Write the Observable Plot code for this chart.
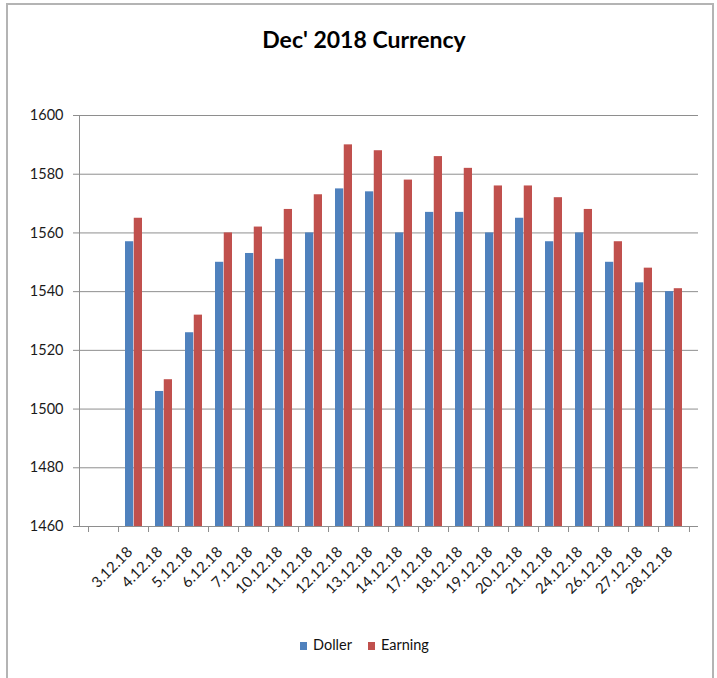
<!DOCTYPE html>
<html>
<head>
<meta charset="utf-8">
<script src="https://cdn.jsdelivr.net/npm/d3@7"></script>
<script src="https://cdn.jsdelivr.net/npm/@observablehq/plot@0.6"></script>
<style>
  html, body { margin: 0; padding: 0; background: #fff; }
  body { font-family: Lato, "Liberation Sans", sans-serif; }
  #wrap { position: relative; width: 717px; height: 678px; overflow: hidden; background: #fff; }
  #border { position: absolute; left: 6px; top: 3px; width: 708px; height: 720px; border: 2px solid #b4b4b4; box-sizing: border-box; }
  #title { position: absolute; left: 0; width: 728px; top: 28px; text-align: center; font-weight: 700; font-size: 23px; line-height: 23px; color: #000; }
  #chart { position: absolute; left: 0; top: 0; }
  #legend { position: absolute; left: 300px; top: 638px; font-size: 14.5px; line-height: 14.5px; color: #111; display: flex; }
  #legend .item { display: flex; align-items: flex-start; margin-right: 16px; }
  #legend .sw { width: 7px; height: 8px; margin-top: 4px; margin-right: 6px; }
</style>
</head>
<body>
<div id="wrap">
  <div id="border"></div>
  <div id="chart"></div>
  <div id="title"></div>
  <div id="legend"></div>
</div>
<script>
// ---- data ----
const titleText = "Dec' 2018 Currency";
const dates = [" ", "3.12.18", "4.12.18", "5.12.18", "6.12.18", "7.12.18", "10.12.18", "11.12.18",
  "12.12.18", "13.12.18", "14.12.18", "17.12.18", "18.12.18", "19.12.18", "20.12.18",
  "21.12.18", "24.12.18", "26.12.18", "27.12.18", "28.12.18"];
const doller  = [null, 1557, 1506, 1526, 1550, 1553, 1551, 1560, 1575, 1574, 1560, 1567, 1567, 1560, 1565, 1557, 1560, 1550, 1543, 1540];
const earning = [null, 1565, 1510, 1532, 1560, 1562, 1568, 1573, 1590, 1588, 1578, 1586, 1582, 1576, 1576, 1572, 1568, 1557, 1548, 1541];
const seriesNames = ["Doller", "Earning"];
const seriesColors = ["#4F81BD", "#C0504D"];
const yTicks = [1460, 1480, 1500, 1520, 1540, 1560, 1580, 1600];

// ---- layout ----
const W = 717, H = 678;
const mLeft = 79, mRight = 19, mTop = 115, mBottom = 152;
const pad = 0.434;
const step = (W - mLeft - mRight) / dates.length;
const half = step * (1 - pad) / 2;
const gridColor = "#8e8e8e";

const dollerData = dates.map((d, i) => ({date: d, value: doller[i]})).filter(d => d.value != null);
const earningData = dates.map((d, i) => ({date: d, value: earning[i]})).filter(d => d.value != null);

const chart = Plot.plot({
  width: W, height: H,
  marginLeft: mLeft, marginRight: mRight, marginTop: mTop, marginBottom: mBottom,
  style: {fontFamily: "Lato, 'Liberation Sans', sans-serif", background: "transparent", overflow: "visible"},
  x: {domain: dates, paddingInner: pad, paddingOuter: pad / 2, label: null},
  y: {domain: [yTicks[0], yTicks[yTicks.length - 1]], label: null},
  marks: [
    Plot.gridY(yTicks, {stroke: gridColor, strokeOpacity: 1}),
    Plot.barY(dollerData, {x: "date", y1: yTicks[0], y2: "value", fill: seriesColors[0], insetRight: half}),
    Plot.barY(earningData, {x: "date", y1: yTicks[0], y2: "value", fill: seriesColors[1], insetLeft: half}),
    Plot.frame({anchor: "left", stroke: gridColor}),
    Plot.axisY(yTicks, {tickSize: 6, tickPadding: 10, stroke: gridColor, fill: "#1a1a1a", fontSize: 14.5, tickFormat: d => String(d), label: null}),
    Plot.axisX({tickSize: 6, text: null, dx: -step / 2, stroke: gridColor, label: null}),
    Plot.axisX([dates[dates.length - 1]], {tickSize: 6, text: null, dx: step / 2, stroke: gridColor, label: null}),
    Plot.axisX(dates.slice(1), {tickSize: 0, tickPadding: 23, dx: -4, tickRotate: -45, fontSize: 15, fill: "#1a1a1a", label: null})
  ]
});
document.getElementById("chart").appendChild(chart);
document.getElementById("title").textContent = titleText;

const legend = document.getElementById("legend");
seriesNames.forEach((n, i) => {
  const item = document.createElement("div");
  item.className = "item";
  const sw = document.createElement("span");
  sw.className = "sw";
  sw.style.background = seriesColors[i];
  const t = document.createElement("span");
  t.textContent = n;
  item.appendChild(sw); item.appendChild(t);
  legend.appendChild(item);
});
</script>
</body>
</html>
